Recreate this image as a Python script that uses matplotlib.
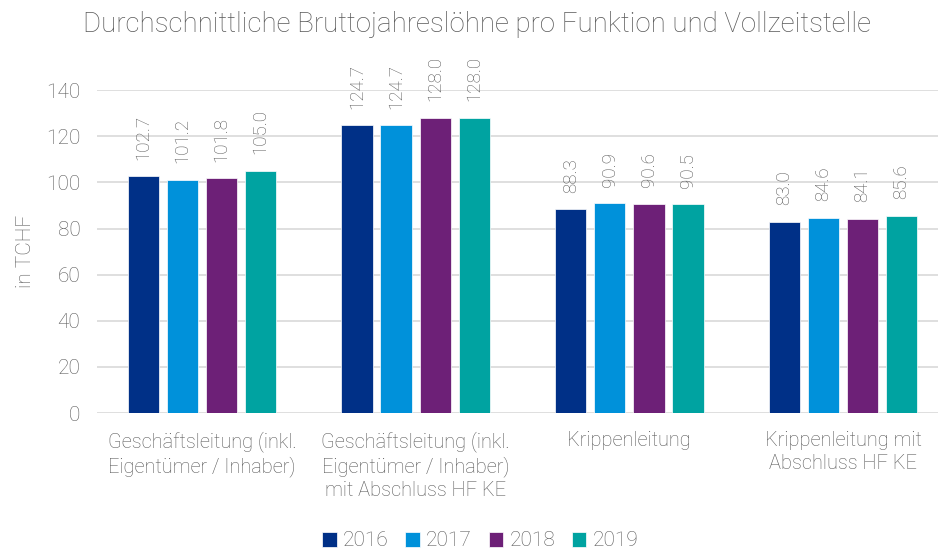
import matplotlib
matplotlib.use("Agg")
from matplotlib import pyplot as plt
import numpy as np

plt.rcParams['font.family'] = ['Roboto', 'DejaVu Sans']

# data
categories = ['Geschäftsleitung (inkl.\nEigentümer / Inhaber)',
              'Geschäftsleitung (inkl.\nEigentümer / Inhaber)\nmit Abschluss HF KE',
              'Krippenleitung',
              'Krippenleitung mit\nAbschluss HF KE']
years = ['2016', '2017', '2018', '2019']
v2016 = [102.7, 124.7, 88.3, 83.0]
v2017 = [101.2, 124.7, 90.9, 84.6]
v2018 = [101.8, 128.0, 90.6, 84.1]
v2019 = [105.0, 128.0, 90.5, 85.6]
series = [v2016, v2017, v2018, v2019]
colors = ['#003087', '#0091DA', '#6D2077', '#00A3A1']

grey = '#595959'
fw = 'light'
fig = plt.figure(figsize=(9.38, 5.5), dpi=100)
ax = fig.add_axes([97/938, 0.249, 841/938, 0.587])

x = np.arange(len(categories))
pitch = 0.183
width = 0.147
for i, (vals, col, yr) in enumerate(zip(series, colors, years)):
    pos = x + (i - 1.5) * pitch
    bars = ax.bar(pos, vals, width, color=col, label=yr, zorder=3,
                  edgecolor='white', linewidth=0.5)
    for b, v in zip(bars, vals):
        ax.annotate(f'{v:.1f}', (b.get_x() + b.get_width() / 2, v),
                    xytext=(0, 12), textcoords='offset points',
                    rotation=90, ha='center', va='bottom',
                    fontsize=13.5, color=grey, fontweight=fw)

ax.set_xlim(-0.492, 3.445)
ax.set_ylim(0, 140)
ax.set_yticks(range(0, 141, 20))
ax.grid(axis='y', color='#d9d9d9', linewidth=1.2, zorder=0)
for s in ax.spines.values():
    s.set_visible(False)
ax.tick_params(length=0, colors=grey, labelsize=15, pad=12)
ax.tick_params(axis='x', pad=13)
ax.set_xticks(x)
ax.set_xticklabels(categories, fontsize=14.4, color=grey, linespacing=1.25)
for t in ax.get_yticklabels() + ax.get_xticklabels():
    t.set_fontweight(fw)

ax.set_ylabel('in TCHF', fontsize=15, color=grey, fontweight=fw, labelpad=8)
fig.text(0.509, 0.955, 'Durchschnittliche Bruttojahreslöhne pro Funktion und Vollzeitstelle',
         ha='center', va='center', fontsize=19.9, color=grey, fontweight=fw)

leg = fig.legend(loc='lower center', ncol=4, bbox_to_anchor=(0.512, -0.035),
                 frameon=False, fontsize=15, handlelength=0.7, handleheight=0.7,
                 handletextpad=0.3, columnspacing=0.8)
for t in leg.get_texts():
    t.set_color(grey)
    t.set_fontweight(fw)

fig.savefig('out.png', dpi=100)
